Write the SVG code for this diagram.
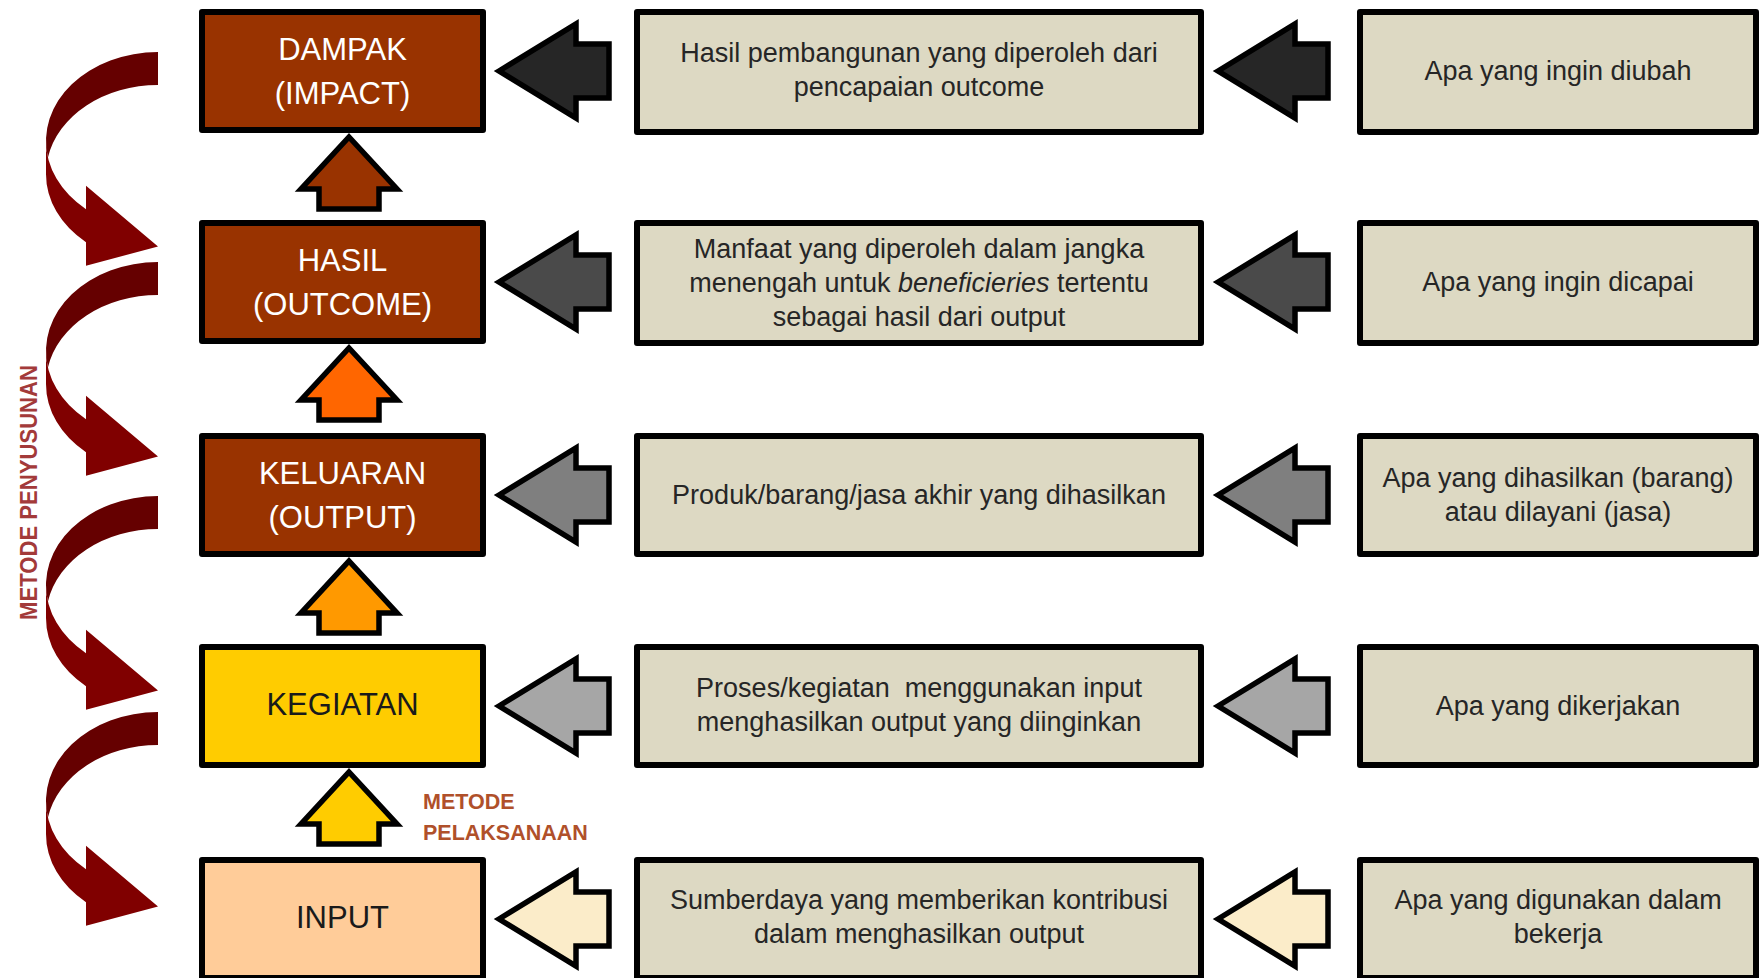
<svg xmlns="http://www.w3.org/2000/svg" width="1760" height="978" viewBox="0 0 1760 978">
<style>
.box{stroke:#000;stroke-width:6;stroke-linejoin:round}
.brown{fill:#993300}
.yel{fill:#FFCC00}
.peach{fill:#FFCC99}
.tan{fill:#DDD9C3}
.arr{stroke:#000;stroke-width:5.5;stroke-linejoin:miter;stroke-miterlimit:10}
.lt{font-family:"Liberation Sans",Arial,sans-serif;font-size:31px;text-anchor:middle}
.wt{fill:#FFFFFF}
.dk{fill:#1A1A1A}
.bt{font-family:"Liberation Sans",Arial,sans-serif;font-size:27px;text-anchor:middle;fill:#262626}
.cb{fill:#650000}
.cf{fill:#800000}
</style>
<defs>
<path id="harr" d="M499,0 L576,-47 L576,-27 L609,-27 L609,27 L576,27 L576,47 Z"/>
<path id="uarr" d="M349,4 L397,56 L379,56 L379,76 L319,76 L319,56 L301,56 Z"/>
<g id="curl">
<path class="cb" d="M158,85 A112,89 0 0 0 47.94,157.5 A112,89 0 0 1 158,52 Z"/>
<path class="cf" d="M46,141 A112,89 0 0 0 86,209.2 L86,185.7 L158,246.5 L86,265.7 L86,242.2 A112,89 0 0 1 46,174 Z"/>
</g>
</defs>

<g id="connectors">
<use href="#curl" transform="translate(0,0)"/>
<use href="#curl" transform="translate(0,210)"/>
<use href="#curl" transform="translate(0,444)"/>
<use href="#curl" transform="translate(0,660)"/>
<use href="#uarr" class="arr" fill="#993300" transform="translate(0,133)"/>
<use href="#uarr" class="arr" fill="#FF6600" transform="translate(0,344)"/>
<use href="#uarr" class="arr" fill="#FF9900" transform="translate(0,557)"/>
<use href="#uarr" class="arr" fill="#FFCC00" transform="translate(0,768)"/>
<use href="#harr" class="arr" fill="#262626" transform="translate(0,71)"/>
<use href="#harr" class="arr" fill="#4A4A4A" transform="translate(0,282)"/>
<use href="#harr" class="arr" fill="#7F7F7F" transform="translate(0,495)"/>
<use href="#harr" class="arr" fill="#A6A6A6" transform="translate(0,706)"/>
<use href="#harr" class="arr" fill="#FBECC9" transform="translate(0,919)"/>
<use href="#harr" class="arr" fill="#262626" transform="translate(719,71)"/>
<use href="#harr" class="arr" fill="#4A4A4A" transform="translate(719,282)"/>
<use href="#harr" class="arr" fill="#7F7F7F" transform="translate(719,495)"/>
<use href="#harr" class="arr" fill="#A6A6A6" transform="translate(719,706)"/>
<use href="#harr" class="arr" fill="#FBECC9" transform="translate(719,919)"/>
</g>

<g id="label-penyusunan">
<text transform="translate(36.5,492.5) rotate(-90)" x="0" y="0" font-family="'Liberation Sans',Arial,sans-serif" font-size="23" font-weight="bold" fill="#A33A3A" text-anchor="middle" textLength="255" lengthAdjust="spacingAndGlyphs">METODE PENYUSUNAN</text>
</g>
<g id="label-pelaksanaan">
<text font-family="'Liberation Sans',Arial,sans-serif" font-size="21.5" font-weight="bold" fill="#B0502A"><tspan x="423" y="809">METODE</tspan><tspan x="423" y="840">PELAKSANAAN</tspan></text>
</g>

<g id="dampak">
<rect class="box brown" x="202" y="12" width="281" height="118"/>
<text class="lt wt"><tspan x="342.5" y="60">DAMPAK</tspan><tspan x="342.5" y="104">(IMPACT)</tspan></text>
</g>
<g id="hasil">
<rect class="box brown" x="202" y="223" width="281" height="118"/>
<text class="lt wt"><tspan x="342.5" y="271">HASIL</tspan><tspan x="342.5" y="315">(OUTCOME)</tspan></text>
</g>
<g id="keluaran">
<rect class="box brown" x="202" y="436" width="281" height="118"/>
<text class="lt wt"><tspan x="342.5" y="484">KELUARAN</tspan><tspan x="342.5" y="528">(OUTPUT)</tspan></text>
</g>
<g id="kegiatan">
<rect class="box yel" x="202" y="647" width="281" height="118"/>
<text class="lt dk" x="342.5" y="715">KEGIATAN</text>
</g>
<g id="input">
<rect class="box peach" x="202" y="860" width="281" height="118"/>
<text class="lt dk" x="342.5" y="928">INPUT</text>
</g>

<g id="desc-dampak">
<rect class="box tan" x="637" y="12" width="564" height="120"/>
<text class="bt"><tspan x="919" y="62">Hasil pembangunan yang diperoleh dari</tspan><tspan x="919" y="96">pencapaian outcome</tspan></text>
</g>
<g id="desc-hasil">
<rect class="box tan" x="637" y="223" width="564" height="120"/>
<text class="bt"><tspan x="919" y="258">Manfaat yang diperoleh dalam jangka</tspan><tspan x="919" y="292">menengah untuk <tspan font-style="italic">beneficieries</tspan> tertentu</tspan><tspan x="919" y="326">sebagai hasil dari output</tspan></text>
</g>
<g id="desc-keluaran">
<rect class="box tan" x="637" y="436" width="564" height="118"/>
<text class="bt" x="919" y="504">Produk/barang/jasa akhir yang dihasilkan</text>
</g>
<g id="desc-kegiatan">
<rect class="box tan" x="637" y="647" width="564" height="118"/>
<text class="bt"><tspan x="919" y="697" xml:space="preserve">Proses/kegiatan  menggunakan input</tspan><tspan x="919" y="731">menghasilkan output yang diinginkan</tspan></text>
</g>
<g id="desc-input">
<rect class="box tan" x="637" y="860" width="564" height="118"/>
<text class="bt"><tspan x="919" y="909">Sumberdaya yang memberikan kontribusi</tspan><tspan x="919" y="943">dalam menghasilkan output</tspan></text>
</g>

<g id="q-dampak">
<rect class="box tan" x="1360" y="12" width="396" height="120"/>
<text class="bt" x="1558" y="80">Apa yang ingin diubah</text>
</g>
<g id="q-hasil">
<rect class="box tan" x="1360" y="223" width="396" height="120"/>
<text class="bt" x="1558" y="291">Apa yang ingin dicapai</text>
</g>
<g id="q-keluaran">
<rect class="box tan" x="1360" y="436" width="396" height="118"/>
<text class="bt"><tspan x="1558" y="487">Apa yang dihasilkan (barang)</tspan><tspan x="1558" y="521">atau dilayani (jasa)</tspan></text>
</g>
<g id="q-kegiatan">
<rect class="box tan" x="1360" y="647" width="396" height="118"/>
<text class="bt" x="1558" y="715">Apa yang dikerjakan</text>
</g>
<g id="q-input">
<rect class="box tan" x="1360" y="860" width="396" height="118"/>
<text class="bt"><tspan x="1558" y="909">Apa yang digunakan dalam</tspan><tspan x="1558" y="943">bekerja</tspan></text>
</g>
</svg>
